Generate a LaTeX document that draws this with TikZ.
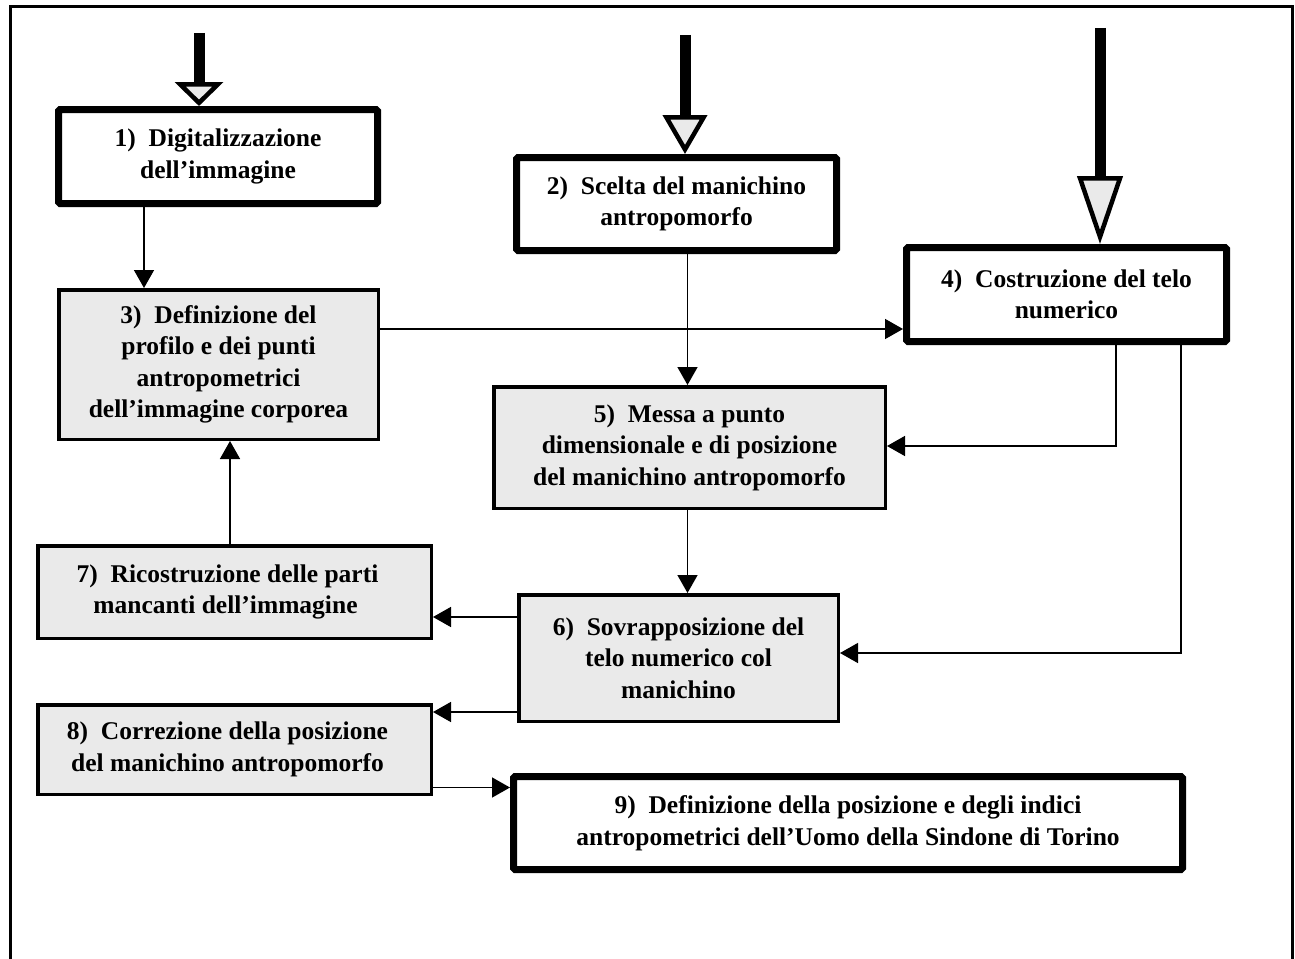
\documentclass[tikz,border=0pt]{standalone}
\usepackage{fontspec}
\setmainfont{Liberation Serif}
\usetikzlibrary{arrows.meta}
\definecolor{boxgrey}{RGB}{234,234,234}
\newcommand{\numgap}{\hspace{0.5em}}
\begin{document}
\begin{tikzpicture}[x=1pt,y=-1pt,
  every node/.style={font=\bfseries\fontsize{25.5}{31.5}\selectfont, align=center, inner sep=0pt},
  thickbox/.style={draw, line width=7pt, fill=white, rounded corners=1.5pt},
  greybox/.style={draw, line width=3.5pt, fill=boxgrey},
  conn/.style={line width=1.5pt, -{Triangle[length=18pt,width=20pt]}},
  bigarrow/.style n args={2}{line width=11pt, -{Triangle[length=#1,width=#2,line width=4.5pt,fill=boxgrey]}},
]
\useasboundingbox (0,0) rectangle (1295,958);
% outer frame
\draw[line width=3pt] (10,962) -- (10,7) -- (1292,7) -- (1292,962);

% boxes
\node[thickbox, minimum width=319pt, minimum height=94pt] (b1) at (218,156.5)
  {1)\numgap Digitalizzazione\\dell’immagine};
\node[thickbox, minimum width=320pt, minimum height=93pt] (b2) at (676.5,204)
  {2)\numgap Scelta del manichino\\antropomorfo};
\node[thickbox, minimum width=320pt, minimum height=94pt] (b4) at (1066.5,294.5)
  {4)\numgap Costruzione del telo\\numerico};
\node[greybox, minimum width=319.5pt, minimum height=149.5pt] (b3) at (218.5,364.5)
  {\rule{0pt}{6pt}3)\numgap Definizione del\\profilo e dei punti\\antropometrici\\dell’immagine corporea};
\node[greybox, minimum width=391.5pt, minimum height=121.5pt] (b5) at (689.5,447.5)
  {5)\numgap Messa a punto\\dimensionale e di posizione\\del manichino antropomorfo};
\node[greybox, minimum width=319.5pt, minimum height=126.5pt] (b6) at (678.5,658)
  {6)\numgap Sovrapposizione del\\telo numerico col\\manichino};
\node[greybox, minimum width=393.5pt, minimum height=92.5pt] (b7) at (234.5,592)
  {7)\numgap Ricostruzione delle parti\hspace*{14pt}\\mancanti dell’immagine\hspace*{18pt}};
\node[greybox, minimum width=393.5pt, minimum height=89.5pt] (b8) at (234.5,749.5)
  {8)\numgap Correzione della posizione\hspace*{14pt}\\del manichino antropomorfo\hspace*{14pt}};
\node[thickbox, minimum width=669pt, minimum height=93pt] (b9) at (848,823)
  {9)\numgap Definizione della posizione e degli indici\\antropometrici dell’Uomo della Sindone di Torino};

% connectors
\draw[conn] (b1.south -| 144,0) -- (b3.north -| 144,0);
\draw[conn] (b2.south -| 687.5,0) -- (b5.north -| 687.5,0);
\draw[conn] (b3.east |- 0,329) -- (b4.west |- 0,329);
\draw[conn] (b4.south -| 1116,0) |- (b5.east |- 0,446);
\draw[conn] (b4.south -| 1181,0) |- (b6.east |- 0,653);
\draw[conn] (b5.south -| 687.5,0) -- (b6.north -| 687.5,0);
\draw[conn] (b6.west |- 0,617) -- (b7.east |- 0,617);
\draw[conn] (b6.west |- 0,712) -- (b8.east |- 0,712);
\draw[conn] (b7.north -| 230,0) -- (b3.south -| 230,0);
\draw[conn] (b8.east |- 0,787.5) -- (b9.west |- 0,787.5);

% big input arrows
\coordinate (s1) at (199,33);
\coordinate (s2) at (685,35);
\coordinate (s4) at (1100,28);
\draw[bigarrow={24pt}{48pt}] (s1) -- (b1.north -| s1);
\draw[bigarrow={39pt}{44pt}] (s2) -- (b2.north -| s2);
\draw[bigarrow={68pt}{45pt}] (s4) -- (b4.north -| s4);
\end{tikzpicture}
\end{document}
